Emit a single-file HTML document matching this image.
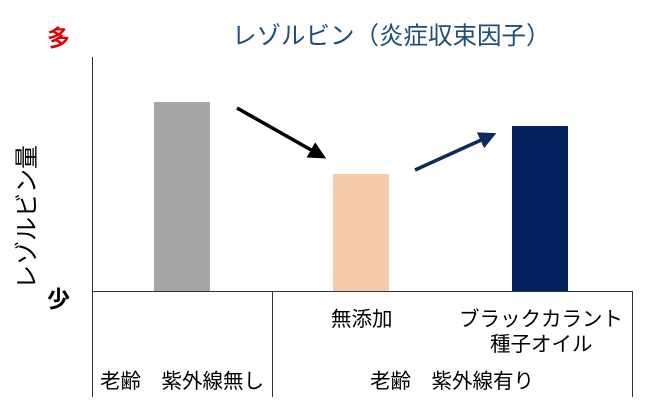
<!DOCTYPE html>
<html><head><meta charset="utf-8"><style>
body{margin:0;background:#fff;width:650px;height:411px;overflow:hidden;position:relative;font-family:"Liberation Sans","Noto Sans CJK JP",sans-serif}
.t{position:absolute;white-space:nowrap;line-height:1}
</style></head><body>
<svg width="650" height="411" style="position:absolute;left:0;top:0">
<defs>
<marker id="a1" markerWidth="5" markerHeight="5" refX="3" refY="2.5" orient="auto" markerUnits="strokeWidth"><path d="M0,0 L5,2.5 L0,5 z" fill="#000"/></marker>
<marker id="a2" markerWidth="5" markerHeight="5" refX="3" refY="2.5" orient="auto" markerUnits="strokeWidth"><path d="M0,0 L5,2.5 L0,5 z" fill="#0d2a5c"/></marker>
</defs>
<line x1="92.5" y1="57" x2="92.5" y2="397" stroke="#333" stroke-width="1"/>
<line x1="92" y1="291.5" x2="633" y2="291.5" stroke="#333" stroke-width="1"/>
<line x1="272.5" y1="291" x2="272.5" y2="397" stroke="#333" stroke-width="1"/>
<line x1="632.5" y1="291" x2="632.5" y2="397" stroke="#333" stroke-width="1"/>
<rect x="154" y="102" width="56" height="189" fill="#a6a6a6"/>
<rect x="333" y="174" width="56" height="117" fill="#f6cbac"/>
<rect x="512" y="126" width="56" height="165" fill="#03215c"/>
<line x1="237" y1="108" x2="320" y2="155" stroke="#000" stroke-width="3.5" marker-end="url(#a1)"/>
<line x1="415" y1="170" x2="490" y2="136" stroke="#0d2a5c" stroke-width="3.5" marker-end="url(#a2)"/>
</svg>
<div class="t" style="left:232px;top:25px;font-size:24.5px;color:#1f4e79">レゾルビン（炎症収束因子）</div>
<div class="t" style="left:47px;top:27px;font-size:23px;color:#e00000;font-weight:bold">多</div>
<div class="t" style="left:47px;top:288px;font-size:23px;color:#000;font-weight:bold">少</div>
<div class="t" style="left:28px;top:217px;font-size:24px;transform:translate(-50%,-50%) rotate(-90deg)">レゾルビン量</div>
<div class="t" style="left:331px;top:310px;font-size:20.5px">無添加</div>
<div class="t" style="left:459px;top:310px;font-size:20.5px">ブラックカラント</div>
<div class="t" style="left:490px;top:335px;font-size:20.5px">種子オイル</div>
<div class="t" style="left:100px;top:372px;font-size:20.5px">老齢　紫外線無し</div>
<div class="t" style="left:370px;top:372px;font-size:20.5px">老齢　紫外線有り</div>
</body></html>
